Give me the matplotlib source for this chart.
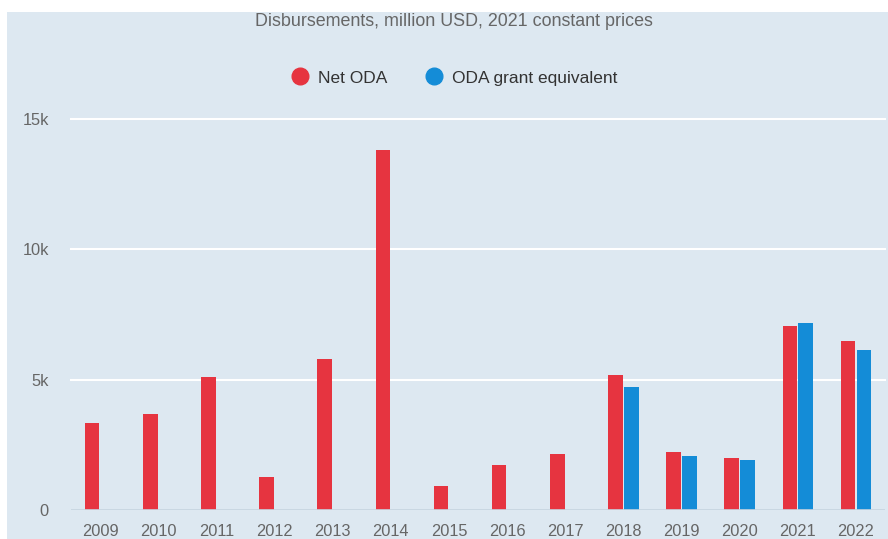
import matplotlib.pyplot as plt
import numpy as np
from matplotlib.lines import Line2D
from matplotlib.patches import Rectangle

# Data (million USD, 2021 constant prices)
years = ["2009", "2010", "2011", "2012", "2013", "2014", "2015",
         "2016", "2017", "2018", "2019", "2020", "2021", "2022"]
netODA = [3330, 3670, 5100, 1260, 5790, 13800, 930,
          1740, 2130, 5160, 2230, 2000, 7060, 6490]
grantEq = [np.nan] * 9 + [4700, 2070, 1900, 7160, 6140]

bgColor = "#dde8f1"
redColor = "#e63440"
blueColor = "#148cd7"
textColor = "#666666"

plt.rcParams['font.family'] = ['Liberation Sans', 'DejaVu Sans']

W, H = 888, 539
fig = plt.figure(figsize=(W / 100, H / 100), dpi=100, facecolor="white")

# light blue panel behind everything
fig.patches.append(Rectangle((7 / W, 0), 1 - 7 / W, 1 - 12 / H,
                             transform=fig.transFigure, facecolor=bgColor,
                             edgecolor="none", zorder=-10))

ax = fig.add_axes([71 / W, (H - 510) / H, (885 - 71) / W, (510 - 119) / H])
ax.set_facecolor("none")

x = np.arange(len(years))
w = 0.25
g = 0.012
ax.bar(x - w - g, netODA, width=w, align="edge", color=redColor, zorder=3)
ax.bar(x + g, grantEq, width=w, align="edge", color=blueColor, zorder=3)

ax.set_xlim(-0.5, len(years) - 0.5)
ax.set_ylim(0, 15000)
ax.set_yticks([0, 5000, 10000, 15000])
ax.set_yticklabels(["0", "5k", "10k", "15k"])
ax.set_xticks(x)
ax.set_xticklabels(years)
ax.tick_params(length=0, colors=textColor, labelsize=11.8)
ax.tick_params(axis="y", pad=16)
ax.tick_params(axis="x", pad=10)

for yv in [5000, 10000, 15000]:
    ax.axhline(yv, color="white", linewidth=1.5, zorder=1, clip_on=False)
ax.axhline(0, color="#c6d4e0", linewidth=1.2, zorder=4)

for s in ax.spines.values():
    s.set_visible(False)

fig.text(454 / W, 1 - 22 / H, "Disbursements, million USD, 2021 constant prices",
         ha="center", va="center", color=textColor, fontsize=12.9)

handles = [Line2D([], [], marker="o", linestyle="none", markersize=12,
                  markerfacecolor=redColor, markeredgecolor=redColor, label="Net ODA"),
           Line2D([], [], marker="o", linestyle="none", markersize=12,
                  markerfacecolor=blueColor, markeredgecolor=blueColor, label="ODA grant equivalent")]
fig.legend(handles=handles, loc="center", bbox_to_anchor=(450 / W, 1 - 78 / H),
           ncol=2, frameon=False, fontsize=12.5, handletextpad=0.05,
           columnspacing=1.7, labelcolor="#333333")

fig.savefig("out.png", dpi=100, facecolor="white")
